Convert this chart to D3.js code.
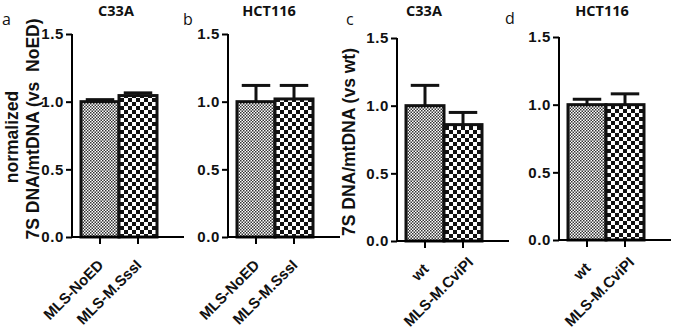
<html>
  <head>
    <script src="https://d3js.org/d3.v7.min.js"></script>
    <style>
      body { margin: 0; background: #fff; }
    </style>
  </head>
  <body>
    <svg id="chart" width="675" height="329"></svg>
    <script>
      // values
      const titles = ["C33A", "HCT116", "C33A", "HCT116"];
      const letters = ["a", "b", "c", "d"];
      const categoriesAB = ["MLS-NoED", "MLS-M.SssI"];
      const categoriesCD = ["wt", "MLS-M.CviPI"];
      const meansA = [1.0, 1.045];
      const errorsA = [0.015, 0.02];
      const meansB = [1.0, 1.02];
      const errorsB = [0.12, 0.1];
      const meansC = [1.0, 0.86];
      const errorsC = [0.15, 0.09];
      const meansD = [1.0, 1.0];
      const errorsD = [0.04, 0.08];
      const yTicks = [0.0, 0.5, 1.0, 1.5];

      const svg = d3.select("#chart");
      const arial = "'Liberation Sans', Arial, sans-serif";
      const sans = "'Open Sans', sans-serif";
      const W = +svg.attr("width");
      const H = +svg.attr("height");

      // patterns: fine and coarse checkerboard
      const defs = svg.append("defs");
      const addChecker = function (id, cell, col) {
        const p = defs
          .append("pattern")
          .attr("id", id)
          .attr("patternUnits", "userSpaceOnUse")
          .attr("width", cell * 2)
          .attr("height", cell * 2);
        p.append("rect").attr("width", cell * 2).attr("height", cell * 2).attr("fill", "#fff");
        p.append("rect").attr("width", cell).attr("height", cell).attr("fill", col);
        p.append("rect").attr("x", cell).attr("y", cell).attr("width", cell).attr("height", cell).attr("fill", col);
      };
      addChecker("fine", 1.5, "#333");
      addChecker("coarse", 4, "#111");
      const fills = ["url(#fine)", "url(#coarse)"];

      // layout of the four panels (axis origin, title centre)
      const panels = [
        { cats: categoriesAB, means: meansA, errs: errorsA, x: 72, y: 34, tx: 116 },
        { cats: categoriesAB, means: meansB, errs: errorsB, x: 228, y: 34, tx: 269 },
        { cats: categoriesCD, means: meansC, errs: errorsC, x: 397, y: 38, tx: 424 },
        { cats: categoriesCD, means: meansD, errs: errorsD, x: 559, y: 37, tx: 602 },
      ];
      const plotH = 203;
      const axisLen = 112;

      const yScale = d3.scaleLinear().domain([0, 1.5]).range([plotH, 0]);

      panels.forEach((p, i) => {
        const g = svg.append("g").attr("transform", "translate(" + p.x + "," + p.y + ")");
        const xScale = d3.scaleBand().domain(p.cats).range([9, 85]).padding(0);
        const rows = p.cats.map((c, j) => ({ cat: c, mean: p.means[j], err: p.errs[j], fill: fills[j] }));

        // error bars (upper only)
        const capW = xScale.bandwidth() * 0.75;
        g.selectAll("line.err")
          .data(rows)
          .join("line")
          .attr("class", "err")
          .attr("x1", (d) => xScale(d.cat) + xScale.bandwidth() / 2)
          .attr("x2", (d) => xScale(d.cat) + xScale.bandwidth() / 2)
          .attr("y1", (d) => yScale(d.mean))
          .attr("y2", (d) => yScale(d.mean + d.err))
          .attr("stroke", "#111")
          .attr("stroke-width", 3);
        g.selectAll("line.cap")
          .data(rows)
          .join("line")
          .attr("class", "cap")
          .attr("x1", (d) => xScale(d.cat) + (xScale.bandwidth() - capW) / 2)
          .attr("x2", (d) => xScale(d.cat) + (xScale.bandwidth() + capW) / 2)
          .attr("y1", (d) => yScale(d.mean + d.err))
          .attr("y2", (d) => yScale(d.mean + d.err))
          .attr("stroke", "#111")
          .attr("stroke-width", 3);

        // bars
        g.selectAll("rect.bar")
          .data(rows)
          .join("rect")
          .attr("class", "bar")
          .attr("x", (d) => xScale(d.cat))
          .attr("y", (d) => yScale(d.mean))
          .attr("width", xScale.bandwidth())
          .attr("height", (d) => yScale(0) - yScale(d.mean))
          .attr("fill", (d) => d.fill)
          .attr("stroke", "#111")
          .attr("stroke-width", 3);

        // y axis
        const yAxis = g.append("g").call(d3.axisLeft(yScale).tickValues(yTicks).tickFormat(d3.format(".1f")).tickSize(6).tickPadding(2));
        yAxis.select(".domain").attr("stroke-width", 2).attr("d", "M0,0V" + plotH);
        yAxis.selectAll(".tick line").attr("stroke-width", 2);
        yAxis.selectAll(".tick text")
          .style("font-family", arial).style("font-weight", "bold").style("font-size", "15px")
          .style("letter-spacing", "0.6px")
          .attr("fill", "#111");

        // x axis, labels rotated; long labels slide up so they stay on the page
        const xAxis = g.append("g").attr("transform", "translate(0," + plotH + ")")
          .call(d3.axisBottom(xScale).tickSize(7).tickSizeOuter(0));
        xAxis.select(".domain").attr("stroke-width", 2).attr("d", "M0,0H" + axisLen);
        xAxis.selectAll(".tick line").attr("stroke-width", 2);
        xAxis.selectAll(".tick text")
          .style("font-family", arial).style("font-weight", "bold").style("font-size", "15px")
          .attr("fill", "#111")
          .attr("text-anchor", "end")
          .attr("dy", null)
          .attr("y", 0)
          .attr("transform", function () {
            const len = this.getComputedTextLength();
            let dx = 4.5, dy = 29;
            const bottom = p.y + plotH + dy + len * Math.SQRT1_2;
            const over = Math.max(0, bottom - (H - 1.5));
            return "translate(" + (dx + over) + "," + (dy - over) + ") rotate(-45)";
          });

        // title
        svg.append("text")
          .style("font-family", sans).style("font-weight", "bold").style("font-size", "14.5px")
          .attr("fill", "#111")
          .attr("x", p.tx).attr("y", 16).attr("text-anchor", "middle").text(titles[i]);
      });

      const letterPos = [[2, 25], [183, 25], [346, 25], [505, 24]];
      svg.selectAll("text.panel-letter")
        .data(letters)
        .join("text")
        .attr("class", "panel-letter")
        .style("font-family", sans).style("font-size", "16px")
        .attr("fill", "#111")
        .attr("x", (d, i) => letterPos[i][0])
        .attr("y", (d, i) => letterPos[i][1])
        .text((d) => d);

      // y axis titles
      const axTitle = (sel) => sel.style("font-family", arial).style("font-weight", "bold").style("font-size", "17.5px")
        .style("white-space", "pre").attr("text-anchor", "middle").attr("fill", "#111");
      svg.append("text").call(axTitle)
        .attr("transform", "translate(18,137) rotate(-90)").text("normalized");
      svg.append("text").call(axTitle)
        .attr("transform", "translate(39,129) rotate(-90)").text("7S DNA/mtDNA (vs  NoED)");
      svg.append("text").call(axTitle)
        .attr("transform", "translate(355,142) rotate(-90)").text("7S DNA/mtDNA (vs wt)");
    </script>
  </body>
</html>
